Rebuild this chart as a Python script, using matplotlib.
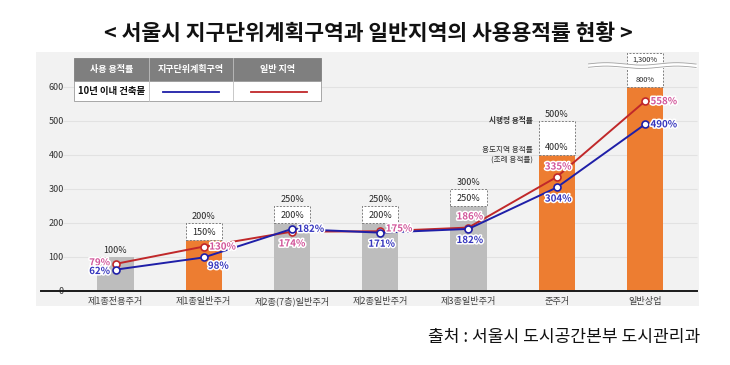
import matplotlib
matplotlib.use('Agg')
import matplotlib.pyplot as plt
import numpy as np
from matplotlib.patches import Rectangle
import matplotlib.patheffects as pe

plt.rcParams['font.family'] = ['Noto Sans CJK KR', 'DejaVu Sans']

# ---------------- data ----------------
categories = ['제1종전용주거', '제1종일반주거', '제2종(7층)일반주거', '제2종일반주거',
              '제3종일반주거', '준주거', '일반상업']
ordinance_far = [100, 150, 200, 200, 250, 400, 800]      # 용도지역(조례) 용적률
decree_far = [None, 200, 250, 250, 300, 500, 1300]        # 시행령 용적률
district_plan = [62, 98, 182, 171, 182, 304, 490]          # 지구단위계획구역
general_area = [79, 130, 174, 175, 186, 335, 558]          # 일반 지역
bar_kind = ['gray', 'orange', 'gray', 'gray', 'gray', 'orange', 'orange']
yticks = [0, 100, 200, 300, 400, 500, 600]

# ---------------- style ----------------
W, H = 730, 365
C_ORANGE = '#ED7D31'
C_GRAY = '#BDBDBD'
C_BLUE = '#1F1FA8'
C_RED = '#C0282A'
C_BLUE_T = '#3535BE'
C_PINK_T = '#D2559A'
BAR_W = 0.41
CAP = 600
YMIN, YMAX = -45, 703

def fx(px):
    return px / W

def fy(py):
    return 1 - py / H

fig = plt.figure(figsize=(W / 100, H / 100), dpi=100)
ax = fig.add_axes([fx(36), fy(306), 663 / W, 254 / H])
ax.set_facecolor('#F2F2F2')
ax.set_xlim(-0.901, 6.612)
ax.set_ylim(YMIN, YMAX)

x = np.arange(len(categories))

# grid lines
ax.hlines(yticks[1:], -0.6, 6.59, color='#E2E2E2', lw=0.8, zorder=0)

# bars (capped)
heights = [min(v, CAP) for v in ordinance_far]
colors = [C_ORANGE if k == 'orange' else C_GRAY for k in bar_kind]
ax.bar(x, heights, width=BAR_W, color=colors, zorder=2)

lab_kw = dict(fontsize=6.5, color='#262626', ha='center', va='center', zorder=6)
for i, (o, d) in enumerate(zip(ordinance_far, decree_far)):
    top = min(o, CAP)
    if d is None:
        ax.annotate(f'{o}%', (i, top), xytext=(0, 4.5), textcoords='offset points', **lab_kw)
        continue
    dtop = min(d, YMAX - 3)
    ax.add_patch(Rectangle((i - BAR_W / 2, top), BAR_W, dtop - top, facecolor='white',
                           edgecolor='#7F7F7F', lw=0.7, ls=(0, (2, 1.5)), zorder=3))
    fs = 6.5 if d < YMAX else 5.3
    ax.annotate(f'{o}%', (i, top), xytext=(0, 5), textcoords='offset points',
                **{**lab_kw, 'fontsize': fs})
    if d < YMAX:
        ax.annotate(f'{d}%', (i, dtop), xytext=(0, 4.5), textcoords='offset points', **lab_kw)
    else:
        ax.annotate(f'{d:,}%', (i, dtop), xytext=(0, -4.5), textcoords='offset points',
                    **{**lab_kw, 'fontsize': 5.3})

# wavy break band on the last bar
i_last = len(categories) - 1
xs = np.linspace(i_last - 0.64, i_last + 0.58, 200)
yc = 663 + 3.5 * np.sin((xs - xs[0]) * 2 * np.pi / 0.8)
ax.fill_between(xs, yc - 5, yc + 5, color='white', zorder=4)
ax.plot(xs, yc - 5, color='#A0A0A0', lw=0.6, zorder=4)
ax.plot(xs, yc + 5, color='#A0A0A0', lw=0.6, zorder=4)

# annotation text beside 준주거
i6 = 5
ax.annotate('시행령 용적률', (i6 - BAR_W / 2, decree_far[i6]), xytext=(-4, 0),
            textcoords='offset points', ha='right', va='center', fontsize=5.5,
            fontweight='bold', color='#333333')
ax.annotate('용도지역 용적률\n(조례 용적률)', (i6 - BAR_W / 2, ordinance_far[i6]), xytext=(-4, 0),
            textcoords='offset points', ha='right', va='center', fontsize=5.5,
            color='#333333', linespacing=1.2)

# lines
mk = dict(marker='o', markersize=5, markerfacecolor='white', markeredgewidth=1.2)
ax.plot(x, general_area, color=C_RED, lw=1.4, zorder=7, markeredgecolor=C_RED, **mk)
ax.plot(x, district_plan, color=C_BLUE, lw=1.4, zorder=8, markeredgecolor=C_BLUE, **mk)

halo = [pe.withStroke(linewidth=2.2, foreground='white')]
red_off = [(-4, 1, 'right'), (4, 0, 'left'), (0, -8.5, 'center'), (4, 2, 'left'),
           (1, 8, 'center'), (1, 7.5, 'center'), (4, 0, 'left')]
blue_off = [(-4, -1, 'right'), (3, -6, 'left'), (4, 0, 'left'), (1, -8, 'center'),
            (1, -8, 'center'), (1, -8, 'center'), (4, 0, 'left')]
for i, v in enumerate(general_area):
    dx, dy, ha = red_off[i]
    ax.annotate(f'{v}%', (i, v), xytext=(dx, dy), textcoords='offset points', ha=ha,
                va='center', fontsize=7, color=C_PINK_T, fontweight='bold',
                path_effects=halo, zorder=9)
for i, v in enumerate(district_plan):
    dx, dy, ha = blue_off[i]
    ax.annotate(f'{v}%', (i, v), xytext=(dx, dy), textcoords='offset points', ha=ha,
                va='center', fontsize=7, color=C_BLUE_T, fontweight='bold',
                path_effects=halo, zorder=9)

# axes styling
for s in ['left', 'right', 'top']:
    ax.spines[s].set_visible(False)
ax.spines['bottom'].set_position(('data', 0))
ax.spines['bottom'].set_bounds(-0.84, 6.59)
ax.spines['bottom'].set_linewidth(1.4)
ax.spines['bottom'].set_color('#1A1A1A')
ax.spines['bottom'].set_zorder(5)
ax.set_xticks(x)
ax.set_xticklabels(categories, fontsize=6.6, color='#404040', va='baseline')
ax.tick_params(axis='x', length=0, pad=9.6)
ax.set_yticks(yticks)
ax.set_yticklabels([str(t) for t in yticks], fontsize=6.5, color='#333333')
ax.tick_params(axis='y', length=0, pad=-20)

# legend table (figure pixel coords)
tx0, tx1, tx2, tx3 = 74, 149, 233, 321
ty0, ty1, ty2 = 58, 81, 101
fig.patches.append(Rectangle((fx(tx0), fy(ty1)), fx(tx3 - tx0), (ty1 - ty0) / H,
                             transform=fig.transFigure, facecolor='#7F7F7F',
                             edgecolor='#7F7F7F', lw=0.6, zorder=10))
fig.patches.append(Rectangle((fx(tx0), fy(ty2)), fx(tx3 - tx0), (ty2 - ty1) / H,
                             transform=fig.transFigure, facecolor='white',
                             edgecolor='#9A9A9A', lw=0.6, zorder=10))
for xv in (tx1, tx2):
    fig.add_artist(plt.Line2D([fx(xv), fx(xv)], [fy(ty2), fy(ty0)], color='#BFBFBF',
                              lw=0.6, transform=fig.transFigure, zorder=11))
hdr = ['사용 용적률', '지구단위계획구역', '일반 지역']
cx = [(tx0 + tx1) / 2, (tx1 + tx2) / 2, (tx2 + tx3) / 2]
for c, t in zip(cx, hdr):
    fig.text(fx(c), fy((ty0 + ty1) / 2), t, ha='center', va='center', fontsize=6.5,
             color='white', fontweight='bold', zorder=12)
fig.text(fx(cx[0]), fy((ty1 + ty2) / 2), '10년 이내 건축물', ha='center', va='center',
         fontsize=6.8, color='#111111', fontweight='bold', zorder=12)
fig.add_artist(plt.Line2D([fx(163), fx(219)], [fy(92), fy(92)], color=C_BLUE, lw=1.3,
                          transform=fig.transFigure, zorder=12))
fig.add_artist(plt.Line2D([fx(251), fx(307)], [fy(92), fy(92)], color=C_RED, lw=1.3,
                          transform=fig.transFigure, zorder=12))

# title and source
fig.text(fx(368), fy(33), '< 서울시 지구단위계획구역과 일반지역의 사용용적률 현황 >',
         ha='center', va='center', fontsize=15.5, fontweight='bold', color='#111111')
fig.text(fx(700), fy(337), '출처 : 서울시 도시공간본부 도시관리과', ha='right', va='center',
         fontsize=12.3, color='#111111')

fig.savefig('out.png', dpi=100, facecolor='white')
